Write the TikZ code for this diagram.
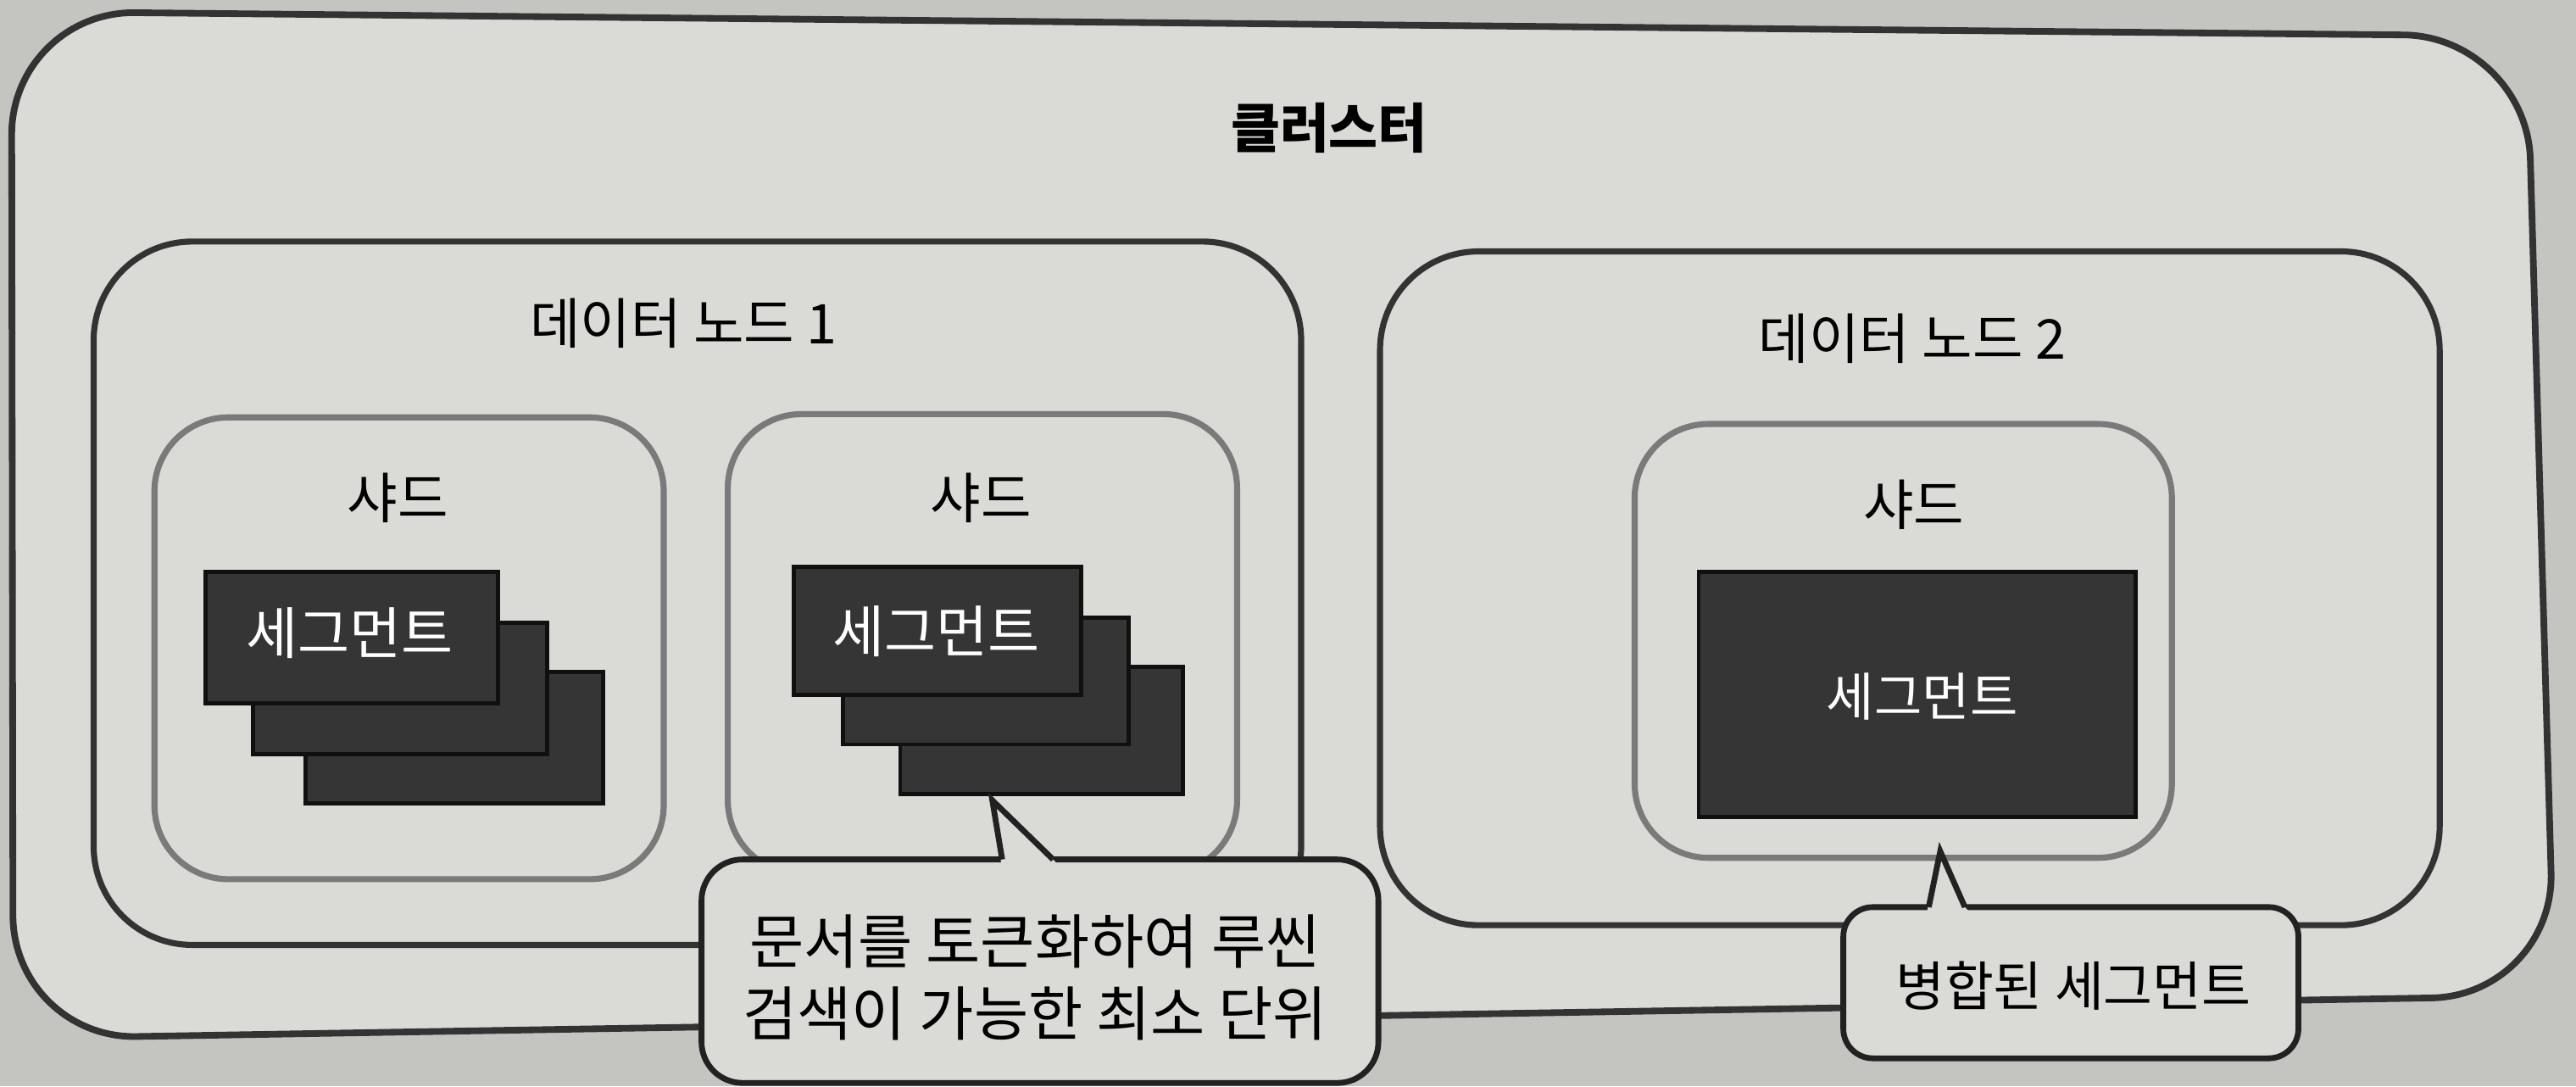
\documentclass[tikz,border=0pt]{standalone}
\usepackage{fontspec}
\newfontfamily\kr{Noto Sans CJK KR}
\usetikzlibrary{fit}
\definecolor{paper}{HTML}{DADAD6}
\definecolor{outside}{HTML}{C4C4C0}
\definecolor{darkline}{HTML}{333333}
\definecolor{shardline}{HTML}{7A7A7A}
\definecolor{segfill}{HTML}{353535}
\definecolor{segline}{HTML}{101010}
\definecolor{callline}{HTML}{222222}
\begin{document}
\begin{tikzpicture}[x=0.02cm,y=-0.02cm,
  clusterline/.style={draw=darkline, line width=2.3pt, fill=paper, rounded corners=1.5cm},
  datanode/.style={draw=darkline, line width=2.1pt, rounded corners=1.2cm, inner sep=0pt},
  shardbox/.style={draw=shardline, line width=2.1pt, rounded corners=0.9cm, inner sep=0pt},
  segbox/.style={draw=segline, fill=segfill, line width=1.4pt, inner sep=0pt},
  callbox/.style={draw=callline, fill=paper, line width=2pt, inner sep=0pt},
  pointer/.style={draw=callline, line width=2pt, line join=miter},
  lbl/.style={font=\kr\fontsize{19}{22}\selectfont, text=black, inner sep=0pt},
  titlelbl/.style={font=\kr\bfseries\fontsize{18.5}{22}\selectfont, text=black, inner sep=0pt},
  segtext/.style={font=\kr\fontsize{19.5}{22}\selectfont, text=white, inner sep=0pt},
  calltext/.style={font=\kr\fontsize{20.5}{25}\selectfont, text=black, inner sep=0pt, align=center},
  calltexttwo/.style={font=\kr\fontsize{18.5}{22}\selectfont, text=black, inner sep=0pt}
]
% page
\fill[outside] (0,0) rectangle (1568,661);
\useasboundingbox (0,0) rectangle (1568,661);

% cluster
\path[clusterline] (7,7) -- (1538,22) -- (1555,606) -- (8,632) -- cycle;
\node[titlelbl] (title) at (809,78) {클러스터};

% data node 1
\node[datanode, fit={(57,147) (792,575)}] (dn1) {};
\node[lbl] (dn1lbl) at (416,197) {데이터 노드 1};

% shard 1a
\node[shardbox, fit={(94,254) (404,535)}] (sh1) {};
\node[lbl] (sh1lbl) at (242,303) {샤드};
\node[segbox, fit={(186,409) (367,489)}] (sg1c) {};
\node[segbox, fit={(154,379) (333,459)}] (sg1b) {};
\node[segbox, fit={(125,348) (303,428)}] (sg1a) {};
\node[segtext] (sg1txt) at (213,385) {세그먼트};

% shard 1b
\node[shardbox, fit={(443,252) (753,532)}] (sh2) {};
\node[lbl] (sh2lbl) at (597,303) {샤드};
\node[segbox, fit={(548,406) (720,483)}] (sg2c) {};
\node[segbox, fit={(513,376) (687,453)}] (sg2b) {};
\node[segbox, fit={(483,345) (658,423)}] (sg2a) {};
\node[segtext] (sg2txt) at (570,384) {세그먼트};

% data node 2
\node[datanode, fit={(840,153) (1485,563)}] (dn2) {};
\node[lbl] (dn2lbl) at (1164,206) {데이터 노드 2};
\node[shardbox, fit={(995,258) (1322,522)}] (sh3) {};
\node[lbl] (sh3lbl) at (1165,307) {샤드};
\node[segbox, fit={(1034,348) (1300,497)}] (sg3) {};
\node[segtext, font=\kr\fontsize{18}{22}\selectfont] (sg3txt) at (1170,424) {세그먼트};

% callout 1
\node[callbox, rounded corners=0.5cm, fit={(427,523) (839,659)}] (call1) {};
\coordinate (tip1) at (604,487);
\coordinate (c1l) at (610,523);
\coordinate (c1r) at (641,523);
\fill[paper] ([yshift=-3.5pt]c1l) -- (tip1) -- (c1r) -- ([yshift=-3.5pt,xshift=3.5pt]c1r) -- cycle;
\draw[pointer] (c1l) -- (tip1) -- (c1r);
\node[calltext] (call1txt) at (630,595) {문서를 토큰화하여 루씬\\검색이 가능한 최소 단위};

% callout 2
\node[callbox, rounded corners=0.36cm, fit={(1122,552) (1399,644)}] (call2) {};
\coordinate (tip2) at (1181,518);
\coordinate (c2l) at (1174,552);
\coordinate (c2r) at (1196,552);
\fill[paper] ([yshift=-3.5pt,xshift=-1pt]c2l) -- (tip2) -- (c2r) -- ([yshift=-3.5pt,xshift=3.5pt]c2r) -- cycle;
\draw[pointer] (c2l) -- (tip2) -- (c2r);
\node[calltexttwo] (call2txt) at (1262,600) {병합된 세그먼트};
\end{tikzpicture}
\end{document}
